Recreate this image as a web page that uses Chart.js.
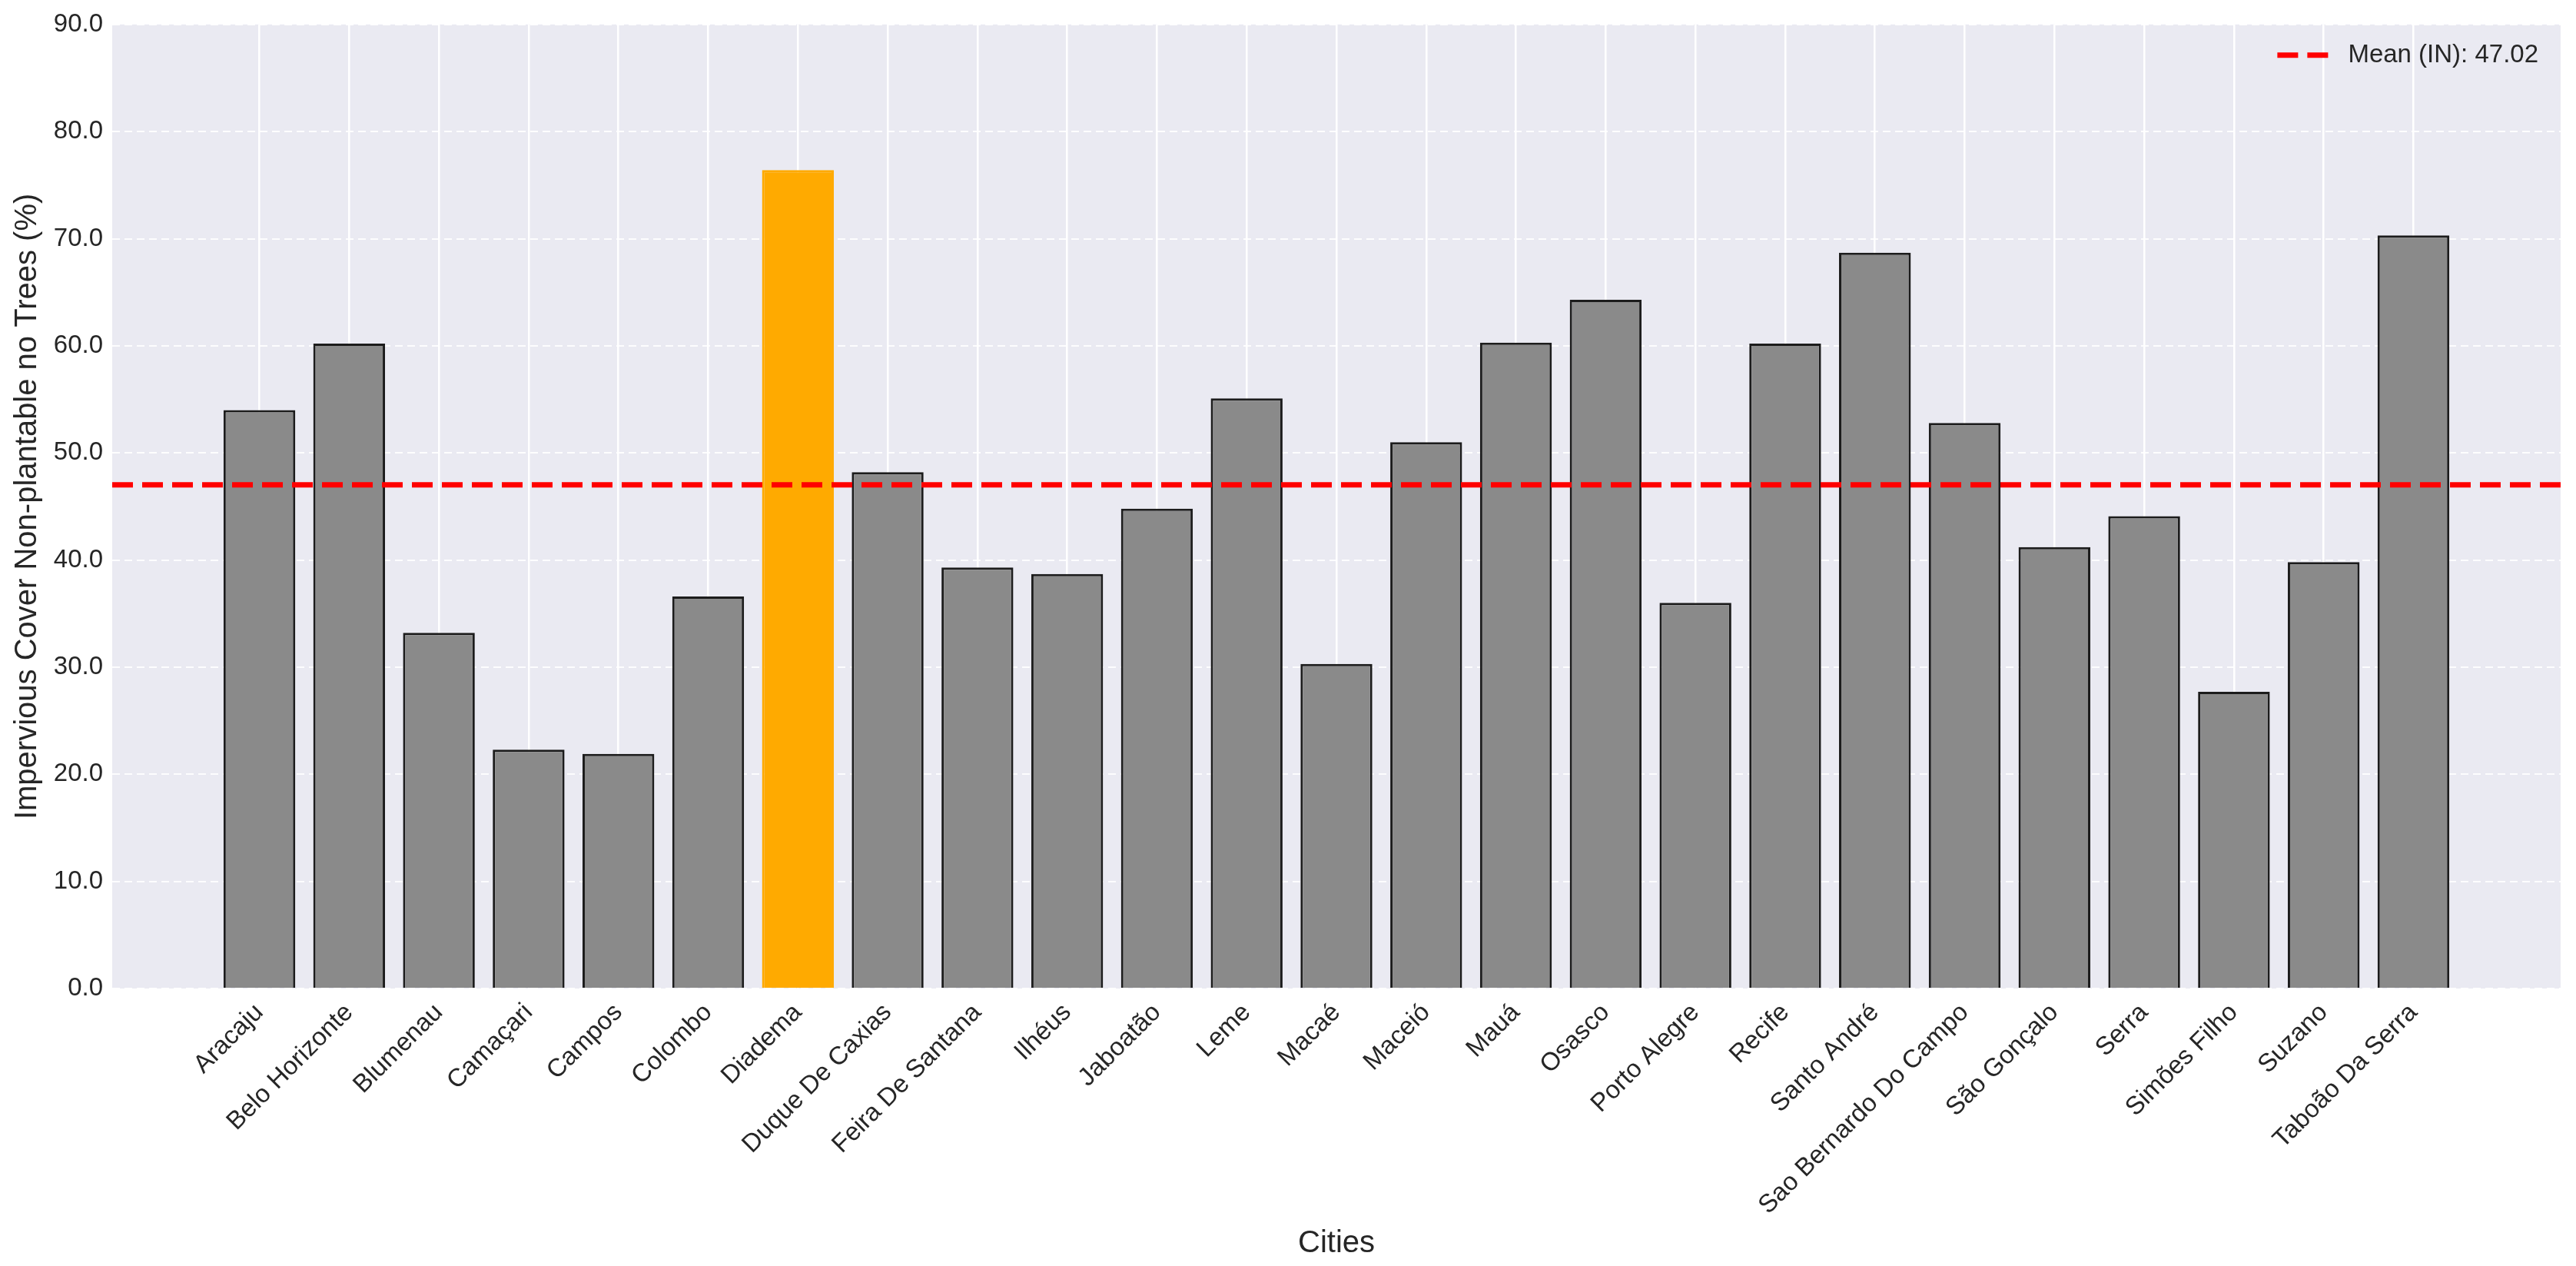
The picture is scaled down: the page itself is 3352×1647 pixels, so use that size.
<!DOCTYPE html>
<html>
<head>
<meta charset="utf-8">
<script src="https://cdn.jsdelivr.net/npm/chart.js@4.4.1/dist/chart.umd.min.js"></script>
<style>
  body { margin: 0; background: #fff; }
  canvas { display: block; }
</style>
</head>
<body>
<canvas id="cityChart" width="3352" height="1647"></canvas>
<script>
const cities = [
    "Aracaju", "Belo Horizonte", "Blumenau", "Camaçari", "Campos", "Colombo",
    "Diadema", "Duque De Caxias", "Feira De Santana", "Ilhéus", "Jaboatão", "Leme",
    "Macaé", "Maceió", "Mauá", "Osasco", "Porto Alegre", "Recife", "Santo André",
    "Sao Bernardo Do Campo", "São Gonçalo", "Serra", "Simões Filho", "Suzano", "Taboão Da Serra"
]
const imperviousNoTrees = [
    54.0, 60.2, 33.2, 22.3, 21.9, 36.6,
    76.4, 48.2, 39.3, 38.7, 44.8, 55.1,
    30.3, 51.0, 60.3, 64.3, 36.0, 60.2, 68.7,
    52.8, 41.2, 44.1, 27.7, 39.8, 70.3
]
const meanIN = 47.02
const highlightCity = "Diadema"
const yTicks = [0, 10, 20, 30, 40, 50, 60, 70, 80, 90]

Chart.defaults.font.family = '"Liberation Sans", Arial, sans-serif'
Chart.defaults.color = '#333333'

// la ciudad resaltada va en naranja, el resto gris
const barColors = cities.map(c => c === highlightCity ? '#FFAA00' : '#8A8A8A')
const barEdges = cities.map(c => c === highlightCity ? '#FFAA00' : '#1C1C1C')

// limites del eje x con el margen de 5% de matplotlib
const barWidth = 0.8
const span = cities.length - 1 + barWidth
const xMin = -barWidth / 2 - span * 0.05
const xMax = cities.length - 1 + barWidth / 2 + span * 0.05

const meanStyle = { color: '#FF0000', width: 7, dash: [27, 12] }

const plotBg = {
    id: 'plotBg',
    beforeDraw(chart) {
        const { ctx, chartArea: a } = chart
        ctx.save()
        ctx.fillStyle = '#EAEAF2'
        ctx.fillRect(a.left, a.top, a.width, a.height)
        ctx.restore()
    }
}

// leyenda dentro del grafico, arriba a la derecha
const meanLegend = {
    id: 'meanLegend',
    afterDraw(chart) {
        const { ctx, chartArea: a } = chart
        const label = chart.data.datasets[0].label
        ctx.save()
        ctx.font = '33px "Liberation Sans", Arial, sans-serif'
        ctx.fillStyle = '#262626'
        ctx.textAlign = 'right'
        ctx.textBaseline = 'middle'
        const y = a.top + 40
        const textRight = a.right - 29
        ctx.fillText(label, textRight, y)
        const textLeft = textRight - ctx.measureText(label).width
        ctx.strokeStyle = meanStyle.color
        ctx.lineWidth = meanStyle.width
        ctx.setLineDash(meanStyle.dash)
        ctx.beginPath()
        ctx.moveTo(textLeft - 26 - 66, y)
        ctx.lineTo(textLeft - 26, y)
        ctx.stroke()
        ctx.restore()
    }
}

const canva = document.querySelector("#cityChart")
new Chart(canva, {
    type: 'bar',
    data: {
        datasets: [
            {
                type: 'line',
                label: `Mean (IN): ${meanIN.toFixed(2)}`,
                data: [{ x: xMin, y: meanIN }, { x: xMax, y: meanIN }],
                borderColor: meanStyle.color,
                borderWidth: meanStyle.width,
                borderDash: meanStyle.dash,
                pointRadius: 0,
                order: 0
            },
            {
                label: 'cities',
                data: cities.map((c, i) => ({ x: i, y: imperviousNoTrees[i] })),
                backgroundColor: barColors,
                borderColor: barEdges,
                borderWidth: 3,
                barPercentage: barWidth,
                categoryPercentage: 1,
                order: 1
            }
        ]
    },
    options: {
        responsive: false,
        devicePixelRatio: 1,
        animation: false,
        layout: { padding: { left: 0, right: 20, top: 28, bottom: 0 } },
        plugins: {
            tooltip: { enabled: false },
            legend: { display: false }
        },
        scales: {
            x: {
                type: 'linear',
                offset: false,
                min: xMin,
                max: xMax,
                afterBuildTicks: axis => { axis.ticks = cities.map((c, i) => ({ value: i })) },
                afterFit: axis => { axis.height = 1647 - 1286 },
                ticks: {
                    autoSkip: false,
                    minRotation: 45,
                    maxRotation: 45,
                    padding: 12,
                    color: '#262626',
                    font: { size: 33 },
                    callback: v => cities[v]
                },
                grid: { color: '#FFFFFF', lineWidth: 2.5, drawTicks: false, offset: false },
                border: { display: false },
                title: {
                    display: true,
                    text: 'Cities',
                    color: '#262626',
                    font: { size: 40 },
                    padding: { top: 0, bottom: 5 }
                }
            },
            y: {
                min: 0,
                max: 90,
                afterBuildTicks: axis => { axis.ticks = yTicks.map(v => ({ value: v })) },
                afterFit: axis => { axis.width = 146 },
                ticks: {
                    padding: 12,
                    color: '#262626',
                    font: { size: 33 },
                    callback: v => v.toFixed(1)
                },
                grid: { color: 'rgba(255,255,255,0.9)', lineWidth: 2, drawTicks: false },
                border: { display: false, dash: [10, 6] },
                title: {
                    display: true,
                    text: 'Impervious Cover Non-plantable no Trees (%)',
                    color: '#262626',
                    font: { size: 40 },
                    padding: { top: 12, bottom: 8 }
                }
            }
        }
    },
    plugins: [plotBg, meanLegend]
})
</script>
</body>
</html>
